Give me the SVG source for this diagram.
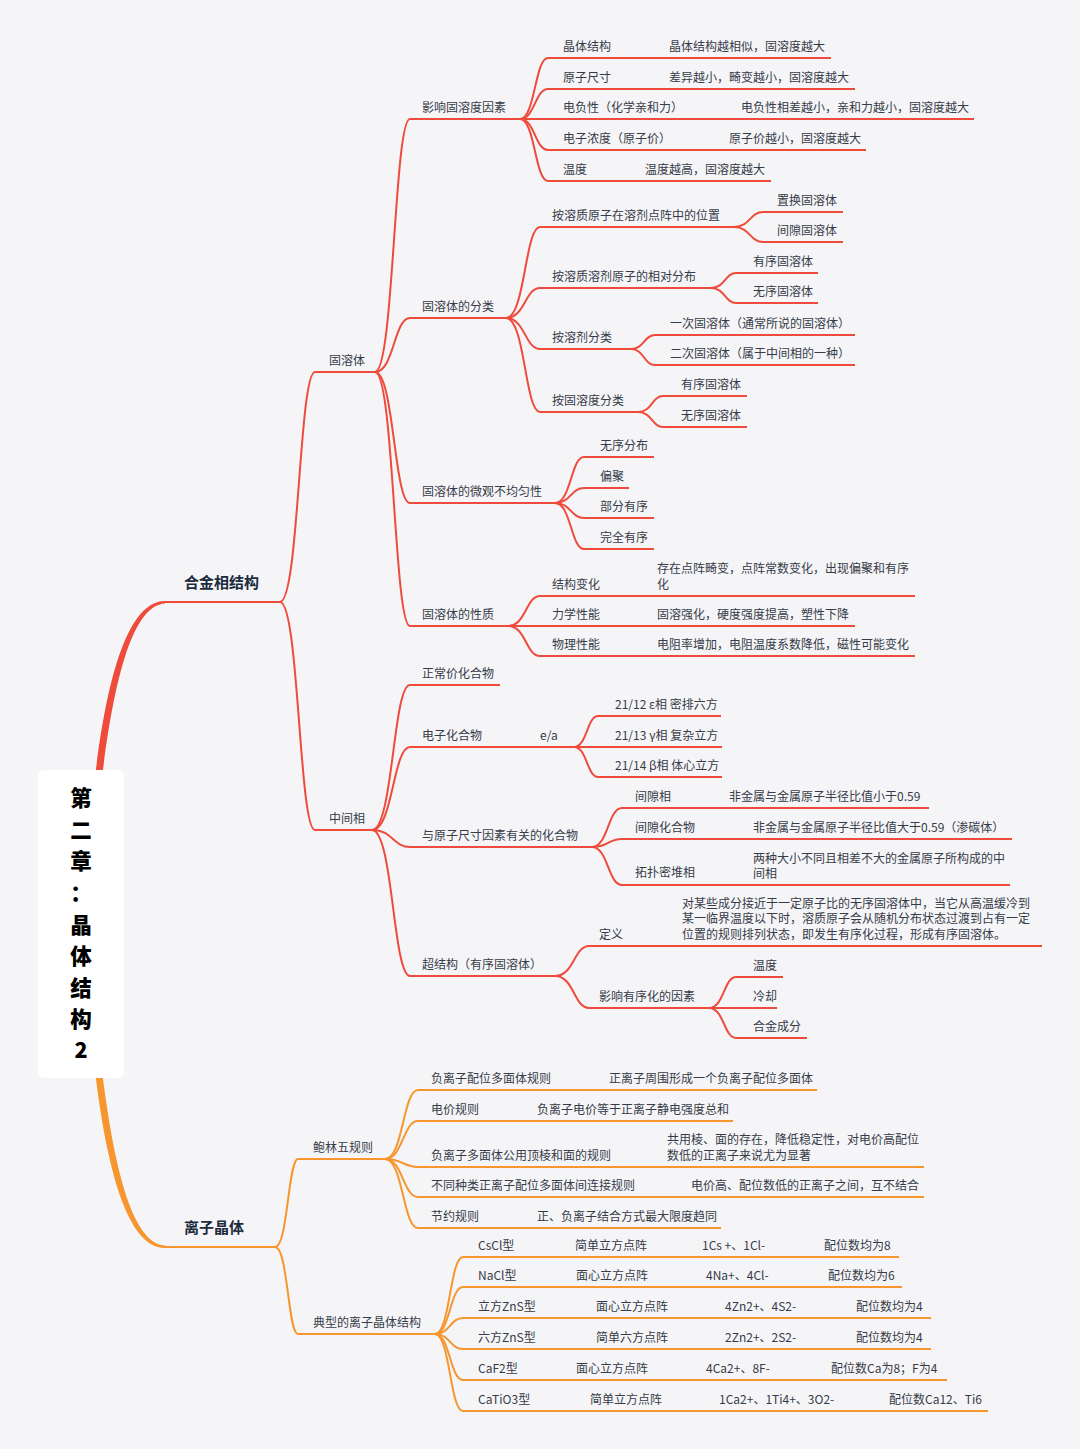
<svg xmlns="http://www.w3.org/2000/svg" width="1080" height="1449" viewBox="0 0 1080 1449">
<style>
text{font-family:"Noto Sans CJK SC","Noto Sans",sans-serif;}
.t{font-size:12px;fill:#353b47;}
.b{font-size:15px;font-weight:bold;fill:#1c2a3e;}
.r{font-size:21.5px;font-weight:900;fill:#000;text-anchor:middle;}
.lr{stroke:#EF4B3C;stroke-width:2;fill:none;}
.lo{stroke:#F7962E;stroke-width:2;fill:none;}
.cr path{stroke:#EF4B3C;stroke-width:2;fill:none;}
.co path{stroke:#F7962E;stroke-width:2;fill:none;}
</style>
<rect width="1080" height="1449" fill="#f5f5f8"/>
<g id="connectors">
<path d="M93.5,790 C104.5,690 125,601 165,601 L165,603.5 C130,605.5 112,691 100.5,790 Z" fill="#EF4B3C"/>
<path d="M93.5,1058 C104.5,1158 125,1248 165,1248 L165,1245.5 C130,1243.5 112,1157 100.5,1058 Z" fill="#F7962E"/>
<g class="cr">
<path d="M280,602 C299,602 299,372 315,372"/>
<path d="M280,602 C299,602 299,830 315,830"/>
<path d="M375,372 C394,372 394,119 410,119"/>
<path d="M375,372 C394,372 394,318 410,318"/>
<path d="M375,372 C394,372 394,503 410,503"/>
<path d="M375,372 C394,372 394,626 410,626"/>
<path d="M520,119 C535,119 535,58 548,58"/>
<path d="M520,119 C535,119 535,89 548,89"/>
<path d="M520,119 L548,119"/>
<path d="M520,119 C535,119 535,150 548,150"/>
<path d="M520,119 C535,119 535,181 548,181"/>
<path d="M506,318 C525,318 525,227 540,227"/>
<path d="M506,318 C525,318 525,288 540,288"/>
<path d="M506,318 C525,318 525,349 540,349"/>
<path d="M506,318 C525,318 525,412 540,412"/>
<path d="M734,227 C750,227 750,212 763,212"/>
<path d="M734,227 C750,227 750,242 763,242"/>
<path d="M711,288 C725,288 725,273 736,273"/>
<path d="M711,288 C725,288 725,303 736,303"/>
<path d="M631,349 C644,349 644,335 655,335"/>
<path d="M631,349 C644,349 644,365 655,365"/>
<path d="M638,412 C652,412 652,396 663,396"/>
<path d="M638,412 C652,412 652,427 663,427"/>
<path d="M555,503 C571,503 571,457 584,457"/>
<path d="M555,503 C571,503 571,488 584,488"/>
<path d="M555,503 C571,503 571,518 584,518"/>
<path d="M555,503 C571,503 571,549 584,549"/>
<path d="M508,626 C526,626 526,596 540,596"/>
<path d="M508,626 L540,626"/>
<path d="M508,626 C526,626 526,656 540,656"/>
<path d="M372,830 C393,830 393,685 410,685"/>
<path d="M372,830 C393,830 393,747 410,747"/>
<path d="M372,830 C393,830 393,847 410,847"/>
<path d="M372,830 C393,830 393,976 410,976"/>
<path d="M574,747 C587,747 587,716 598,716"/>
<path d="M574,747 L598,747"/>
<path d="M574,747 C587,747 587,777 598,777"/>
<path d="M592,847 C608,847 608,808 622,808"/>
<path d="M592,847 C608,847 608,839 622,839"/>
<path d="M592,847 C608,847 608,885 622,885"/>
<path d="M555,976 C574,976 574,946 589,946"/>
<path d="M555,976 C574,976 574,1008 589,1008"/>
<path d="M709,1008 C724,1008 724,977 736,977"/>
<path d="M709,1008 L736,1008"/>
<path d="M709,1008 C724,1008 724,1038 736,1038"/>
</g>
<g class="co">
<path d="M275,1247 C288,1247 288,1159 298,1159"/>
<path d="M275,1247 C288,1247 288,1334 298,1334"/>
<path d="M385,1159 C403,1159 403,1090 418,1090"/>
<path d="M385,1159 C403,1159 403,1121 418,1121"/>
<path d="M385,1159 C403,1159 403,1167 418,1167"/>
<path d="M385,1159 C403,1159 403,1197 418,1197"/>
<path d="M385,1159 C403,1159 403,1228 418,1228"/>
<path d="M435,1334 C450,1334 450,1257 463,1257"/>
<path d="M435,1334 C450,1334 450,1287 463,1287"/>
<path d="M435,1334 C450,1334 450,1318 463,1318"/>
<path d="M435,1334 C450,1334 450,1349 463,1349"/>
<path d="M435,1334 C450,1334 450,1380 463,1380"/>
<path d="M435,1334 C450,1334 450,1411 463,1411"/>
</g>
</g>

<g id="root">
<rect x="38" y="770" width="86" height="308" rx="6" fill="#ffffff"/>
<text class="r" x="81" y="806">第</text>
<text class="r" x="81" y="838">二</text>
<text class="r" x="81" y="869">章</text>
<text class="r" x="81" y="901">：</text>
<text class="r" x="81" y="933">晶</text>
<text class="r" x="81" y="964">体</text>
<text class="r" x="81" y="996">结</text>
<text class="r" x="81" y="1027">构</text>
<text class="r" x="81" y="1058">2</text>
</g>

<g id="n-hejin"><line class="lr" x1="165" y1="602" x2="280" y2="602" stroke-width="2.5"/><text class="b" x="184" y="588">合金相结构</text></g>
<g id="n-gurongti"><line class="lr" x1="315" y1="372" x2="375" y2="372"/><text class="t" x="329" y="365">固溶体</text></g>
<g id="n-yingxiang"><line class="lr" x1="410" y1="119" x2="520" y2="119"/><text class="t" x="422" y="112">影响固溶度因素</text></g>
<g id="n-jtjg"><line class="lr" x1="548" y1="58" x2="660" y2="58"/><text class="t" x="563" y="51">晶体结构</text></g>
<g id="n-jtjg-v"><line class="lr" x1="660" y1="58" x2="831" y2="58"/><text class="t" x="669" y="51">晶体结构越相似，固溶度越大</text></g>
<g id="n-yzcc"><line class="lr" x1="548" y1="89" x2="660" y2="89"/><text class="t" x="563" y="82">原子尺寸</text></g>
<g id="n-yzcc-v"><line class="lr" x1="660" y1="89" x2="855" y2="89"/><text class="t" x="669" y="82">差异越小，畸变越小，固溶度越大</text></g>
<g id="n-dfx"><line class="lr" x1="548" y1="119" x2="732" y2="119"/><text class="t" x="563" y="112">电负性（化学亲和力）</text></g>
<g id="n-dfx-v"><line class="lr" x1="732" y1="119" x2="974" y2="119"/><text class="t" x="741" y="112">电负性相差越小，亲和力越小，固溶度越大</text></g>
<g id="n-dznd"><line class="lr" x1="548" y1="150" x2="720" y2="150"/><text class="t" x="563" y="143">电子浓度（原子价）</text></g>
<g id="n-dznd-v"><line class="lr" x1="720" y1="150" x2="866" y2="150"/><text class="t" x="729" y="143">原子价越小，固溶度越大</text></g>
<g id="n-wd"><line class="lr" x1="548" y1="181" x2="636" y2="181"/><text class="t" x="563" y="174">温度</text></g>
<g id="n-wd-v"><line class="lr" x1="636" y1="181" x2="771" y2="181"/><text class="t" x="645" y="174">温度越高，固溶度越大</text></g>

<g id="n-fenlei"><line class="lr" x1="410" y1="318" x2="506" y2="318"/><text class="t" x="422" y="311">固溶体的分类</text></g>
<g id="n-fl1"><line class="lr" x1="540" y1="227" x2="734" y2="227"/><text class="t" x="552" y="220">按溶质原子在溶剂点阵中的位置</text></g>
<g id="n-fl1a"><line class="lr" x1="763" y1="212" x2="843" y2="212"/><text class="t" x="777" y="205">置换固溶体</text></g>
<g id="n-fl1b"><line class="lr" x1="763" y1="242" x2="843" y2="242"/><text class="t" x="777" y="235">间隙固溶体</text></g>
<g id="n-fl2"><line class="lr" x1="540" y1="288" x2="711" y2="288"/><text class="t" x="552" y="281">按溶质溶剂原子的相对分布</text></g>
<g id="n-fl2a"><line class="lr" x1="736" y1="273" x2="818" y2="273"/><text class="t" x="753" y="266">有序固溶体</text></g>
<g id="n-fl2b"><line class="lr" x1="736" y1="303" x2="818" y2="303"/><text class="t" x="753" y="296">无序固溶体</text></g>
<g id="n-fl3"><line class="lr" x1="540" y1="349" x2="631" y2="349"/><text class="t" x="552" y="342">按溶剂分类</text></g>
<g id="n-fl3a"><line class="lr" x1="655" y1="335" x2="855" y2="335"/><text class="t" x="670" y="328">一次固溶体（通常所说的固溶体）</text></g>
<g id="n-fl3b"><line class="lr" x1="655" y1="365" x2="855" y2="365"/><text class="t" x="670" y="358">二次固溶体（属于中间相的一种）</text></g>
<g id="n-fl4"><line class="lr" x1="540" y1="412" x2="638" y2="412"/><text class="t" x="552" y="405">按固溶度分类</text></g>
<g id="n-fl4a"><line class="lr" x1="663" y1="396" x2="747" y2="396"/><text class="t" x="681" y="389">有序固溶体</text></g>
<g id="n-fl4b"><line class="lr" x1="663" y1="427" x2="747" y2="427"/><text class="t" x="681" y="420">无序固溶体</text></g>

<g id="n-weiguan"><line class="lr" x1="410" y1="503" x2="555" y2="503"/><text class="t" x="422" y="496">固溶体的微观不均匀性</text></g>
<g id="n-wg1"><line class="lr" x1="584" y1="457" x2="654" y2="457"/><text class="t" x="600" y="450">无序分布</text></g>
<g id="n-wg2"><line class="lr" x1="584" y1="488" x2="629" y2="488"/><text class="t" x="600" y="481">偏聚</text></g>
<g id="n-wg3"><line class="lr" x1="584" y1="518" x2="654" y2="518"/><text class="t" x="600" y="511">部分有序</text></g>
<g id="n-wg4"><line class="lr" x1="584" y1="549" x2="654" y2="549"/><text class="t" x="600" y="542">完全有序</text></g>

<g id="n-xingzhi"><line class="lr" x1="410" y1="626" x2="508" y2="626"/><text class="t" x="422" y="619">固溶体的性质</text></g>
<g id="n-xz1"><line class="lr" x1="540" y1="596" x2="649" y2="596"/><text class="t" x="552" y="589">结构变化</text></g>
<g id="n-xz1-v"><line class="lr" x1="649" y1="596" x2="915" y2="596"/><text class="t" x="657" y="573">存在点阵畸变，点阵常数变化，出现偏聚和有序</text><text class="t" x="657" y="589">化</text></g>
<g id="n-xz2"><line class="lr" x1="540" y1="626" x2="649" y2="626"/><text class="t" x="552" y="619">力学性能</text></g>
<g id="n-xz2-v"><line class="lr" x1="649" y1="626" x2="855" y2="626"/><text class="t" x="657" y="619">固溶强化，硬度强度提高，塑性下降</text></g>
<g id="n-xz3"><line class="lr" x1="540" y1="656" x2="649" y2="656"/><text class="t" x="552" y="649">物理性能</text></g>
<g id="n-xz3-v"><line class="lr" x1="649" y1="656" x2="915" y2="656"/><text class="t" x="657" y="649">电阻率增加，电阻温度系数降低，磁性可能变化</text></g>

<g id="n-zhongjian"><line class="lr" x1="315" y1="830" x2="372" y2="830"/><text class="t" x="329" y="823">中间相</text></g>
<g id="n-zcj"><line class="lr" x1="410" y1="685" x2="500" y2="685"/><text class="t" x="422" y="678">正常价化合物</text></g>
<g id="n-dzhhw"><line class="lr" x1="410" y1="747" x2="531" y2="747"/><text class="t" x="422" y="740">电子化合物</text></g>
<g id="n-ea"><line class="lr" x1="531" y1="747" x2="574" y2="747"/><text class="t" x="540" y="740">e/a</text></g>
<g id="n-ea1"><line class="lr" x1="598" y1="716" x2="721" y2="716"/><text class="t" x="615" y="709">21/12 ε相 密排六方</text></g>
<g id="n-ea2"><line class="lr" x1="598" y1="747" x2="722" y2="747"/><text class="t" x="615" y="740">21/13 γ相 复杂立方</text></g>
<g id="n-ea3"><line class="lr" x1="598" y1="777" x2="722" y2="777"/><text class="t" x="615" y="770">21/14 β相 体心立方</text></g>
<g id="n-ychhw"><line class="lr" x1="410" y1="847" x2="592" y2="847"/><text class="t" x="422" y="840">与原子尺寸因素有关的化合物</text></g>
<g id="n-jxx"><line class="lr" x1="622" y1="808" x2="721" y2="808"/><text class="t" x="635" y="801">间隙相</text></g>
<g id="n-jxx-v"><line class="lr" x1="721" y1="808" x2="929" y2="808"/><text class="t" x="729" y="801">非金属与金属原子半径比值小于0.59</text></g>
<g id="n-jxhhw"><line class="lr" x1="622" y1="839" x2="745" y2="839"/><text class="t" x="635" y="832">间隙化合物</text></g>
<g id="n-jxhhw-v"><line class="lr" x1="745" y1="839" x2="1012" y2="839"/><text class="t" x="753" y="832">非金属与金属原子半径比值大于0.59（渗碳体）</text></g>
<g id="n-tpmdx"><line class="lr" x1="622" y1="885" x2="745" y2="885"/><text class="t" x="635" y="877">拓扑密堆相</text></g>
<g id="n-tpmdx-v"><line class="lr" x1="745" y1="885" x2="1010" y2="885"/><text class="t" x="753" y="863">两种大小不同且相差不大的金属原子所构成的中</text><text class="t" x="753" y="878">间相</text></g>
<g id="n-cjg"><line class="lr" x1="410" y1="976" x2="555" y2="976"/><text class="t" x="422" y="969">超结构（有序固溶体）</text></g>
<g id="n-dy"><line class="lr" x1="589" y1="946" x2="674" y2="946"/><text class="t" x="599" y="939">定义</text></g>
<g id="n-dy-v"><line class="lr" x1="674" y1="946" x2="1042" y2="946"/><text class="t" x="682" y="908">对某些成分接近于一定原子比的无序固溶体中，当它从高温缓冷到</text><text class="t" x="682" y="923">某一临界温度以下时，溶质原子会从随机分布状态过渡到占有一定</text><text class="t" x="682" y="939">位置的规则排列状态，即发生有序化过程，形成有序固溶体。</text></g>
<g id="n-yxyx"><line class="lr" x1="589" y1="1008" x2="709" y2="1008"/><text class="t" x="599" y="1001">影响有序化的因素</text></g>
<g id="n-yx1"><line class="lr" x1="736" y1="977" x2="783" y2="977"/><text class="t" x="753" y="970">温度</text></g>
<g id="n-yx2"><line class="lr" x1="736" y1="1008" x2="777" y2="1008"/><text class="t" x="753" y="1001">冷却</text></g>
<g id="n-yx3"><line class="lr" x1="736" y1="1038" x2="807" y2="1038"/><text class="t" x="753" y="1031">合金成分</text></g>

<g id="n-lizi"><line class="lo" x1="165" y1="1247" x2="275" y2="1247" stroke-width="2.5"/><text class="b" x="184" y="1233">离子晶体</text></g>
<g id="n-baolin"><line class="lo" x1="298" y1="1159" x2="385" y2="1159"/><text class="t" x="313" y="1152">鲍林五规则</text></g>
<g id="n-bl1"><line class="lo" x1="418" y1="1090" x2="601" y2="1090"/><text class="t" x="431" y="1083">负离子配位多面体规则</text></g>
<g id="n-bl1-v"><line class="lo" x1="601" y1="1090" x2="817" y2="1090"/><text class="t" x="609" y="1083">正离子周围形成一个负离子配位多面体</text></g>
<g id="n-bl2"><line class="lo" x1="418" y1="1121" x2="530" y2="1121"/><text class="t" x="431" y="1114">电价规则</text></g>
<g id="n-bl2-v"><line class="lo" x1="530" y1="1121" x2="733" y2="1121"/><text class="t" x="537" y="1114">负离子电价等于正离子静电强度总和</text></g>
<g id="n-bl3"><line class="lo" x1="418" y1="1167" x2="665" y2="1167"/><text class="t" x="431" y="1160">负离子多面体公用顶棱和面的规则</text></g>
<g id="n-bl3-v"><line class="lo" x1="665" y1="1167" x2="924" y2="1167"/><text class="t" x="667" y="1144">共用棱、面的存在，降低稳定性，对电价高配位</text><text class="t" x="667" y="1160">数低的正离子来说尤为显著</text></g>
<g id="n-bl4"><line class="lo" x1="418" y1="1197" x2="682" y2="1197"/><text class="t" x="431" y="1190">不同种类正离子配位多面体间连接规则</text></g>
<g id="n-bl4-v"><line class="lo" x1="682" y1="1197" x2="924" y2="1197"/><text class="t" x="691" y="1190">电价高、配位数低的正离子之间，互不结合</text></g>
<g id="n-bl5"><line class="lo" x1="418" y1="1228" x2="530" y2="1228"/><text class="t" x="431" y="1221">节约规则</text></g>
<g id="n-bl5-v"><line class="lo" x1="530" y1="1228" x2="721" y2="1228"/><text class="t" x="537" y="1221">正、负离子结合方式最大限度趋同</text></g>

<g id="n-dianxing"><line class="lo" x1="298" y1="1334" x2="435" y2="1334"/><text class="t" x="313" y="1327">典型的离子晶体结构</text></g>
<g id="n-cscl"><line class="lo" x1="463" y1="1257" x2="566" y2="1257"/><text class="t" x="478" y="1250">CsCl型</text></g>
<g id="n-cscl-2"><line class="lo" x1="566" y1="1257" x2="693" y2="1257"/><text class="t" x="575" y="1250">简单立方点阵</text></g>
<g id="n-cscl-3"><line class="lo" x1="693" y1="1257" x2="815" y2="1257"/><text class="t" x="702" y="1250">1Cs +、1Cl-</text></g>
<g id="n-cscl-4"><line class="lo" x1="815" y1="1257" x2="899" y2="1257"/><text class="t" x="824" y="1250">配位数均为8</text></g>
<g id="n-nacl"><line class="lo" x1="463" y1="1287" x2="567" y2="1287"/><text class="t" x="478" y="1280">NaCl型</text></g>
<g id="n-nacl-2"><line class="lo" x1="567" y1="1287" x2="697" y2="1287"/><text class="t" x="576" y="1280">面心立方点阵</text></g>
<g id="n-nacl-3"><line class="lo" x1="697" y1="1287" x2="819" y2="1287"/><text class="t" x="706" y="1280">4Na+、4Cl-</text></g>
<g id="n-nacl-4"><line class="lo" x1="819" y1="1287" x2="902" y2="1287"/><text class="t" x="828" y="1280">配位数均为6</text></g>
<g id="n-lfzns"><line class="lo" x1="463" y1="1318" x2="587" y2="1318"/><text class="t" x="478" y="1311">立方ZnS型</text></g>
<g id="n-lfzns-2"><line class="lo" x1="587" y1="1318" x2="716" y2="1318"/><text class="t" x="596" y="1311">面心立方点阵</text></g>
<g id="n-lfzns-3"><line class="lo" x1="716" y1="1318" x2="847" y2="1318"/><text class="t" x="725" y="1311">4Zn2+、4S2-</text></g>
<g id="n-lfzns-4"><line class="lo" x1="847" y1="1318" x2="931" y2="1318"/><text class="t" x="856" y="1311">配位数均为4</text></g>
<g id="n-lzns"><line class="lo" x1="463" y1="1349" x2="587" y2="1349"/><text class="t" x="478" y="1342">六方ZnS型</text></g>
<g id="n-lzns-2"><line class="lo" x1="587" y1="1349" x2="716" y2="1349"/><text class="t" x="596" y="1342">简单六方点阵</text></g>
<g id="n-lzns-3"><line class="lo" x1="716" y1="1349" x2="847" y2="1349"/><text class="t" x="725" y="1342">2Zn2+、2S2-</text></g>
<g id="n-lzns-4"><line class="lo" x1="847" y1="1349" x2="931" y2="1349"/><text class="t" x="856" y="1342">配位数均为4</text></g>
<g id="n-caf2"><line class="lo" x1="463" y1="1380" x2="567" y2="1380"/><text class="t" x="478" y="1373">CaF2型</text></g>
<g id="n-caf2-2"><line class="lo" x1="567" y1="1380" x2="697" y2="1380"/><text class="t" x="576" y="1373">面心立方点阵</text></g>
<g id="n-caf2-3"><line class="lo" x1="697" y1="1380" x2="822" y2="1380"/><text class="t" x="706" y="1373">4Ca2+、8F-</text></g>
<g id="n-caf2-4"><line class="lo" x1="822" y1="1380" x2="947" y2="1380"/><text class="t" x="831" y="1373">配位数Ca为8；F为4</text></g>
<g id="n-catio3"><line class="lo" x1="463" y1="1411" x2="581" y2="1411"/><text class="t" x="478" y="1404">CaTiO3型</text></g>
<g id="n-catio3-2"><line class="lo" x1="581" y1="1411" x2="710" y2="1411"/><text class="t" x="590" y="1404">简单立方点阵</text></g>
<g id="n-catio3-3"><line class="lo" x1="710" y1="1411" x2="880" y2="1411"/><text class="t" x="719" y="1404">1Ca2+、1Ti4+、3O2-</text></g>
<g id="n-catio3-4"><line class="lo" x1="880" y1="1411" x2="988" y2="1411"/><text class="t" x="889" y="1404">配位数Ca12、Ti6</text></g>
</svg>
